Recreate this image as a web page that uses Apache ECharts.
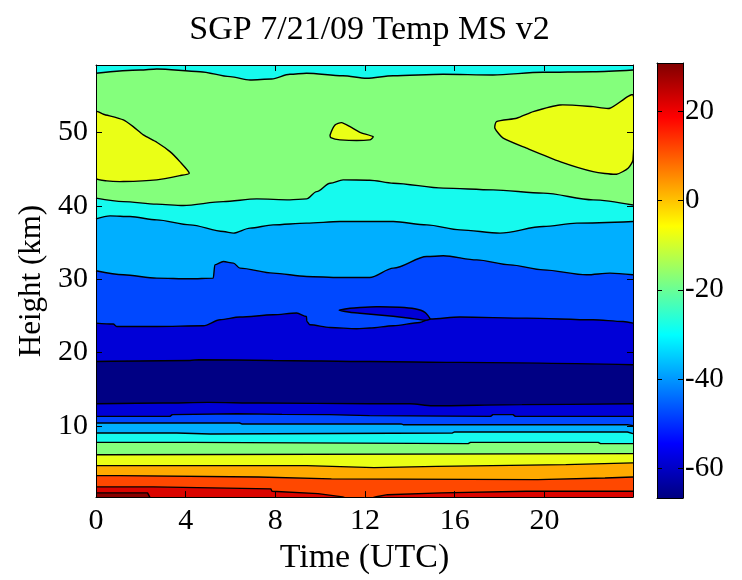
<!DOCTYPE html>
<html>
<head>
<meta charset="utf-8">
<script src="https://cdn.jsdelivr.net/npm/echarts@6/dist/echarts.min.js"></script>
<style>
  html, body { margin: 0; padding: 0; background: #fff; }
  #chart { width: 742px; height: 580px; }
</style>
</head>
<body>
<div id="chart"></div>
<script>
// Axis ranges and ticks
const timeRange = [0, 23.95];          // UTC hours
const heightRange = [0.3, 59.2];       // km
const timeTicks = [0, 4, 8, 12, 16, 20];
const heightTicks = [10, 20, 30, 40, 50];
const tempRange = [-66.7, 30.9];       // colour scale, deg C
const tempTicks = [-60, -40, -20, 0, 20];

// Contour levels (deg C) and the fill used above each level
const levels = ['min', -60, -50, -40, -30, -20, -10, 0, 10, 20, 30];
const levelFills = ['rgb(0,0,132)', 'rgb(0,0,215)', 'rgb(0,72,255)', 'rgb(0,175,255)', 'rgb(22,250,238)',
                    'rgb(132,255,124)', 'rgb(234,255,22)', 'rgb(255,170,0)', 'rgb(255,72,0)', 'rgb(218,4,0)', 'rgb(136,0,0)'];

// Contour boundaries as [time (h), height (km)]
const iso_m20_upper = [[0,58.07],[1.97,58.52],[2.71,58.66],[4.64,58.29],[5.98,57.61],[6.87,57.16],[7.83,57.29],[8.65,57.93],[9.39,58.07],[11.01,57.74],[12.07,57.39],[13.25,57.74],[15.48,57.93],[17.70,57.84],[19.93,58.21],[22.16,58.29],[23.95,58.52]];
const iso_m20_strat = [[0,41.05],[1.22,40.58],[2.71,40.23],[3.89,40.04],[5.67,40.58],[7.17,40.95],[8.65,40.82],[9.39,40.95],[9.84,41.94],[10.44,43.09],[11.02,43.54],[12.21,43.50],[13.26,43.09],[15.49,42.41],[17.71,42.18],[19.95,41.73],[22.17,40.82],[23.95,40.12]];
const iso_m30_strat = [[0,38.23],[0.63,38.64],[1.52,38.54],[2.71,38.09],[4.19,37.41],[5.68,36.50],[6.13,36.28],[6.87,36.96],[7.90,37.41],[9.39,37.64],[10.88,37.86],[12.21,37.86],[13.26,37.86],[14.75,37.41],[16.24,36.73],[18.02,36.28],[19.95,37.18],[21.44,37.64],[23.95,37.86]];
const iso_m40_strat = [[0,31.15],[1.22,30.60],[2.71,30.15],[4.19,30.06],[5.23,30.15],[5.30,31.96],[5.68,32.41],[6.13,32.19],[6.42,31.51],[7.90,30.83],[9.39,30.37],[10.88,30.23],[12.21,30.23],[13.26,31.51],[14.75,33.09],[15.49,33.19],[16.98,32.64],[18.47,31.96],[19.95,31.28],[21.88,30.60],[22.92,30.83],[23.95,30.60]];
const iso_m50_strat = [[0,24.02],[0.77,23.89],[0.92,23.56],[2.71,23.56],[4.79,23.66],[5.53,24.47],[6.42,24.84],[7.90,25.15],[8.95,25.39],[9.39,24.92],[9.40,24.24],[9.54,23.79],[10.44,23.42],[11.63,23.25],[12.21,23.34],[13.26,23.66],[14.45,24.11],[14.90,24.57],[16.23,24.84],[19.21,24.70],[22.17,24.47],[23.51,24.24],[23.95,24.02]];
const iso_m60_upper = [[0,18.79],[4.19,18.93],[4.6,19.03],[7.9,18.93],[12.21,18.79],[16.2,18.66],[23.95,18.34]];
const iso_m60_lower = [[0,13.03],[3.0,13.13],[5.0,13.21],[7.3,13.13],[12.21,13.03],[14.0,13.03],[15.0,12.76],[19.0,12.90],[23.95,13.03]];
const iso_m50_trop = [[0,11.30],[3.3,11.30],[3.4,11.54],[6.3,11.67],[8.3,11.58],[10.4,11.54],[12.2,11.40],[17.6,11.30],[17.7,11.54],[18.6,11.54],[18.7,11.30],[23.95,11.30]];
const iso_m40_trop = [[0,10.40],[6.4,10.40],[6.5,10.27],[13.6,10.27],[13.7,10.17],[23.7,10.17],[23.75,10.04],[23.95,10.04]];
const iso_m30_trop = [[0,9.04],[3.6,9.04],[3.65,8.91],[5.1,8.91],[5.15,9.04],[15.9,9.04],[16.0,9.18],[23.7,9.18],[23.75,8.95],[23.95,8.95]];
const iso_m20_trop = [[0,7.76],[4.25,7.76],[4.3,7.59],[16.6,7.59],[16.7,7.76],[22.4,7.76],[22.5,7.59],[23.95,7.59]];
const iso_m10_trop = [[0,6.08],[0.25,6.08],[0.3,6.22],[23.95,6.22]];
const iso_0 = [[0,4.59],[9.4,4.59],[9.45,4.32],[12.4,4.32],[12.45,4.49],[15.2,4.49],[15.25,4.73],[20.95,4.73],[21.0,4.96],[23.95,4.96]];
const iso_10 = [[0,3.23],[1.05,3.23],[1.1,3.05],[7.25,3.05],[7.3,2.78],[10.5,2.78],[10.55,2.68],[19.7,2.68],[19.75,2.91],[22.7,2.91],[22.75,3.05],[23.95,3.05]];
const iso_20 = [[0,1.69],[2.55,1.69],[2.6,1.42],[7.8,1.42],[7.85,1.10],[9.9,0.78],[11.0,0.33],[11.3,0.0],[12.1,0.0],[12.5,0.35],[13.0,0.63],[15.4,0.87],[19.2,1.10],[23.95,1.10]];
const iso_30 = [[0,0.87],[2.3,0.87],[2.45,0.0],[23.95,0.0]];

// Closed contours
const warmCellWest = [[0,52.84],[0.33,52.49],[1.22,51.71],[1.66,50.80],[2.11,49.67],[2.71,48.67],[3.30,47.39],[3.74,46.03],[4.16,44.45],[3.74,44.12],[2.71,43.54],[1.22,43.31],[0.48,43.40],[0,43.77]];
const warmCellMid = [[10.44,49.67],[10.66,51.03],[10.95,51.34],[11.33,50.80],[11.77,50.03],[12.36,49.43],[12.21,48.99],[10.88,48.99],[10.47,49.30]];
const warmCellEast = [[23.95,55.11],[22.92,53.30],[22.17,53.52],[20.69,53.75],[19.50,52.84],[18.76,51.94],[17.86,51.48],[17.79,50.58],[18.16,49.22],[19.20,47.86],[20.69,46.03],[22.17,44.67],[23.22,44.31],[23.73,45.13],[23.95,46.26]];
const coldLens = [[10.84,25.77],[11.33,26.04],[11.77,26.15],[12.51,26.24],[13.55,26.18],[14.22,25.97],[14.67,25.49],[14.90,24.57],[14.67,24.40],[14.00,24.68],[13.25,24.95],[12.51,25.15],[11.77,25.36],[11.33,25.49]];

// Jet colour map anchors for the colour bar (position, [r,g,b])
const jetStops = [[0,[0,0,128]],[0.125,[0,0,255]],[0.375,[0,255,255]],[0.625,[255,255,0]],[0.875,[255,0,0]],[1,[128,0,0]]];

function fillAbove(level) {
  return levelFills[levels.indexOf(level)];
}

// Painting order: each boundary fills downward with the band beneath it.
// Stratospheric contours are drawn as smooth curves.
const layers = [
  { line: iso_m20_upper, below: -20, smooth: true },
  { line: iso_m20_strat, below: -30, smooth: true },
  { line: iso_m30_strat, below: -40, smooth: true },
  { line: iso_m40_strat, below: -50, smooth: true },
  { line: iso_m50_strat, below: -60, smooth: true },
  { line: iso_m60_upper, below: 'min', smooth: true },
  { line: iso_m60_lower, below: -60, smooth: true },
  { line: iso_m50_trop, below: -50 },
  { line: iso_m40_trop, below: -40 },
  { line: iso_m30_trop, below: -30 },
  { line: iso_m20_trop, below: -20 },
  { line: iso_m10_trop, below: -10 },
  { line: iso_0, below: 0 },
  { line: iso_10, below: 10 },
  { line: iso_20, below: 20 },
  { line: iso_30, below: 30 }
];
const cells = [
  { pts: warmCellWest, band: -10 },
  { pts: warmCellMid, band: -10 },
  { pts: warmCellEast, band: -10 },
  { pts: coldLens, band: -60 }
];

const FONT = "'Liberation Serif', 'Times New Roman', serif";
const LINE_W = 1.4;
const tickStyle = { inside: true, length: 6, lineStyle: { color: '#000', width: 1 } };
const frameLine = { show: true, onZero: false, lineStyle: { color: '#000', width: 1 } };

const series = layers.map(l => ({
  type: 'line',
  xAxisIndex: 0, yAxisIndex: 0,
  data: l.line,
  symbol: 'none',
  smooth: l.smooth ? 0.3 : false,
  smoothMonotone: 'x',
  silent: true,
  animation: false,
  z: 2,
  lineStyle: { color: '#000', width: LINE_W },
  areaStyle: { color: fillAbove(l.below), opacity: 1, origin: 'start' }
}));

series.push({
  type: 'custom',
  xAxisIndex: 0, yAxisIndex: 0,
  clip: true,
  silent: true,
  animation: false,
  z: 3,
  data: cells.map(c => c.pts[0]),
  renderItem: function (params, api) {
    const c = cells[params.dataIndex];
    return {
      type: 'polygon',
      shape: { points: c.pts.map(p => api.coord(p)), smooth: 0.2 },
      style: { fill: fillAbove(c.band), stroke: '#000', lineWidth: LINE_W }
    };
  }
});

// Colour bar
series.push({
  type: 'custom',
  xAxisIndex: 2, yAxisIndex: 2,
  silent: true,
  animation: false,
  data: [[0, tempRange[0], 1, tempRange[1]]],
  renderItem: function (params, api) {
    const p0 = api.coord([api.value(0), api.value(1)]);
    const p1 = api.coord([api.value(2), api.value(3)]);
    return {
      type: 'rect',
      shape: { x: p0[0], y: p1[1], width: p1[0] - p0[0], height: p0[1] - p1[1] },
      style: {
        fill: new echarts.graphic.LinearGradient(0, 1, 0, 0,
          jetStops.map(s => ({ offset: s[0], color: 'rgb(' + s[1].join(',') + ')' })))
      }
    };
  }
});

const chart = echarts.init(document.getElementById('chart'), null, { renderer: 'canvas' });
chart.setOption({
  animation: false,
  backgroundColor: '#fff',
  title: {
    text: 'SGP 7/21/09 Temp MS v2',
    left: 364.5, top: 8, textAlign: 'center',
    textStyle: { fontFamily: FONT, fontSize: 34, fontWeight: 'normal', color: '#000' }
  },
  grid: [
    { left: 96, right: 109, top: 65, bottom: 82.5, show: true, backgroundColor: fillAbove(-30), borderWidth: 0 },
    { left: 657, width: 26, top: 63, bottom: 82, show: false }
  ],
  xAxis: [
    { gridIndex: 0, type: 'value', min: timeRange[0], max: timeRange[1], position: 'bottom', z: 10,
      axisLine: frameLine, axisTick: Object.assign({ customValues: timeTicks }, tickStyle),
      axisLabel: { customValues: timeTicks, color: '#000', fontFamily: FONT, fontSize: 30, margin: 9 },
      splitLine: { show: false },
      name: 'Time (UTC)', nameLocation: 'middle', nameGap: 38,
      nameTextStyle: { fontFamily: FONT, fontSize: 34, color: '#000' } },
    { gridIndex: 0, type: 'value', min: timeRange[0], max: timeRange[1], position: 'top', z: 10,
      axisLine: frameLine, axisTick: Object.assign({ customValues: timeTicks }, tickStyle),
      axisLabel: { show: false }, splitLine: { show: false } },
    { gridIndex: 1, type: 'value', min: 0, max: 1, position: 'bottom', z: 10,
      axisLine: frameLine, axisTick: { show: false }, axisLabel: { show: false }, splitLine: { show: false } },
    { gridIndex: 1, type: 'value', min: 0, max: 1, position: 'top', z: 10,
      axisLine: frameLine, axisTick: { show: false }, axisLabel: { show: false }, splitLine: { show: false } }
  ],
  yAxis: [
    { gridIndex: 0, type: 'value', min: heightRange[0], max: heightRange[1], position: 'left', z: 10,
      axisLine: frameLine, axisTick: Object.assign({ customValues: heightTicks }, tickStyle),
      axisLabel: { customValues: heightTicks, color: '#000', fontFamily: FONT, fontSize: 30, margin: 8 },
      splitLine: { show: false },
      name: 'Height (km)', nameLocation: 'middle', nameGap: 36,
      nameTextStyle: { fontFamily: FONT, fontSize: 31, color: '#000' } },
    { gridIndex: 0, type: 'value', min: heightRange[0], max: heightRange[1], position: 'right', z: 10,
      axisLine: frameLine, axisTick: Object.assign({ customValues: heightTicks }, tickStyle),
      axisLabel: { show: false }, splitLine: { show: false } },
    { gridIndex: 1, type: 'value', min: tempRange[0], max: tempRange[1], position: 'right', z: 10,
      axisLine: frameLine, axisTick: Object.assign({ customValues: tempTicks }, tickStyle, { length: 5 }),
      axisLabel: { customValues: tempTicks, color: '#000', fontFamily: FONT, fontSize: 29, margin: 2 },
      splitLine: { show: false } },
    { gridIndex: 1, type: 'value', min: tempRange[0], max: tempRange[1], position: 'left', z: 10,
      axisLine: frameLine, axisTick: Object.assign({ customValues: tempTicks }, tickStyle, { length: 5 }),
      axisLabel: { show: false }, splitLine: { show: false } }
  ],
  series: series
});
</script>
</body>
</html>
